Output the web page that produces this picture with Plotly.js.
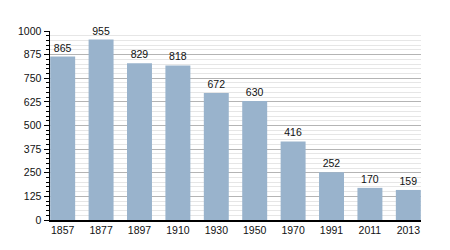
<!DOCTYPE html>
<html>
<head>
<meta charset="utf-8">
<script src="https://cdn.plot.ly/plotly-3.0.1.min.js"></script>
<style>html,body{margin:0;padding:0;background:#fff;}#chart{width:450px;height:250px;}</style>
</head>
<body>
<div id="chart"></div>
<script>
const years = ["1857","1877","1897","1910","1930","1950","1970","1991","2011","2013"];
const population = [865, 955, 829, 818, 672, 630, 416, 252, 170, 159];
const yTicks = [0, 125, 250, 375, 500, 625, 750, 875, 1000];

const trace = {
  type: 'bar',
  x: years,
  y: population,
  text: population.map(String),
  textposition: 'outside',
  cliponaxis: false,
  textfont: {family: 'Liberation Sans, Arial, sans-serif', size: 10.5, color: '#111'},
  marker: {color: '#99b3cc', line: {width: 0}},
  width: 0.65,
  hoverinfo: 'none'
};

const layout = {
  width: 450,
  height: 250,
  margin: {l: 50, r: 29, t: 31, b: 30},
  paper_bgcolor: '#fff',
  plot_bgcolor: '#fff',
  showlegend: false,
  font: {family: 'Liberation Sans, Arial, sans-serif', size: 10.5, color: '#111'},
  xaxis: {
    type: 'category',
    range: [-0.33, 9.33],
    showline: true,
    linecolor: '#000',
    linewidth: 1.5,
    ticks: '',
    showgrid: false,
    zeroline: false,
    tickfont: {size: 10.5, color: '#111'}
  },
  yaxis: {
    range: [0, 1000],
    tickvals: yTicks,
    ticktext: yTicks.map(String),
    ticks: 'outside',
    ticklen: 5,
    tickwidth: 1,
    tickcolor: '#000',
    showline: true,
    linecolor: '#000',
    linewidth: 1.5,
    showgrid: true,
    gridcolor: '#b4b4b4',
    gridwidth: 1,
    zeroline: false,
    tickfont: {size: 10.5, color: '#111'},
    minor: {dtick: 25, ticks: 'outside', ticklen: 3, tickcolor: '#000', showgrid: true, gridcolor: '#e6e6e6', gridwidth: 1}
  }
};

Plotly.newPlot('chart', [trace], layout, {staticPlot: true, displayModeBar: false});
</script>
</body>
</html>
